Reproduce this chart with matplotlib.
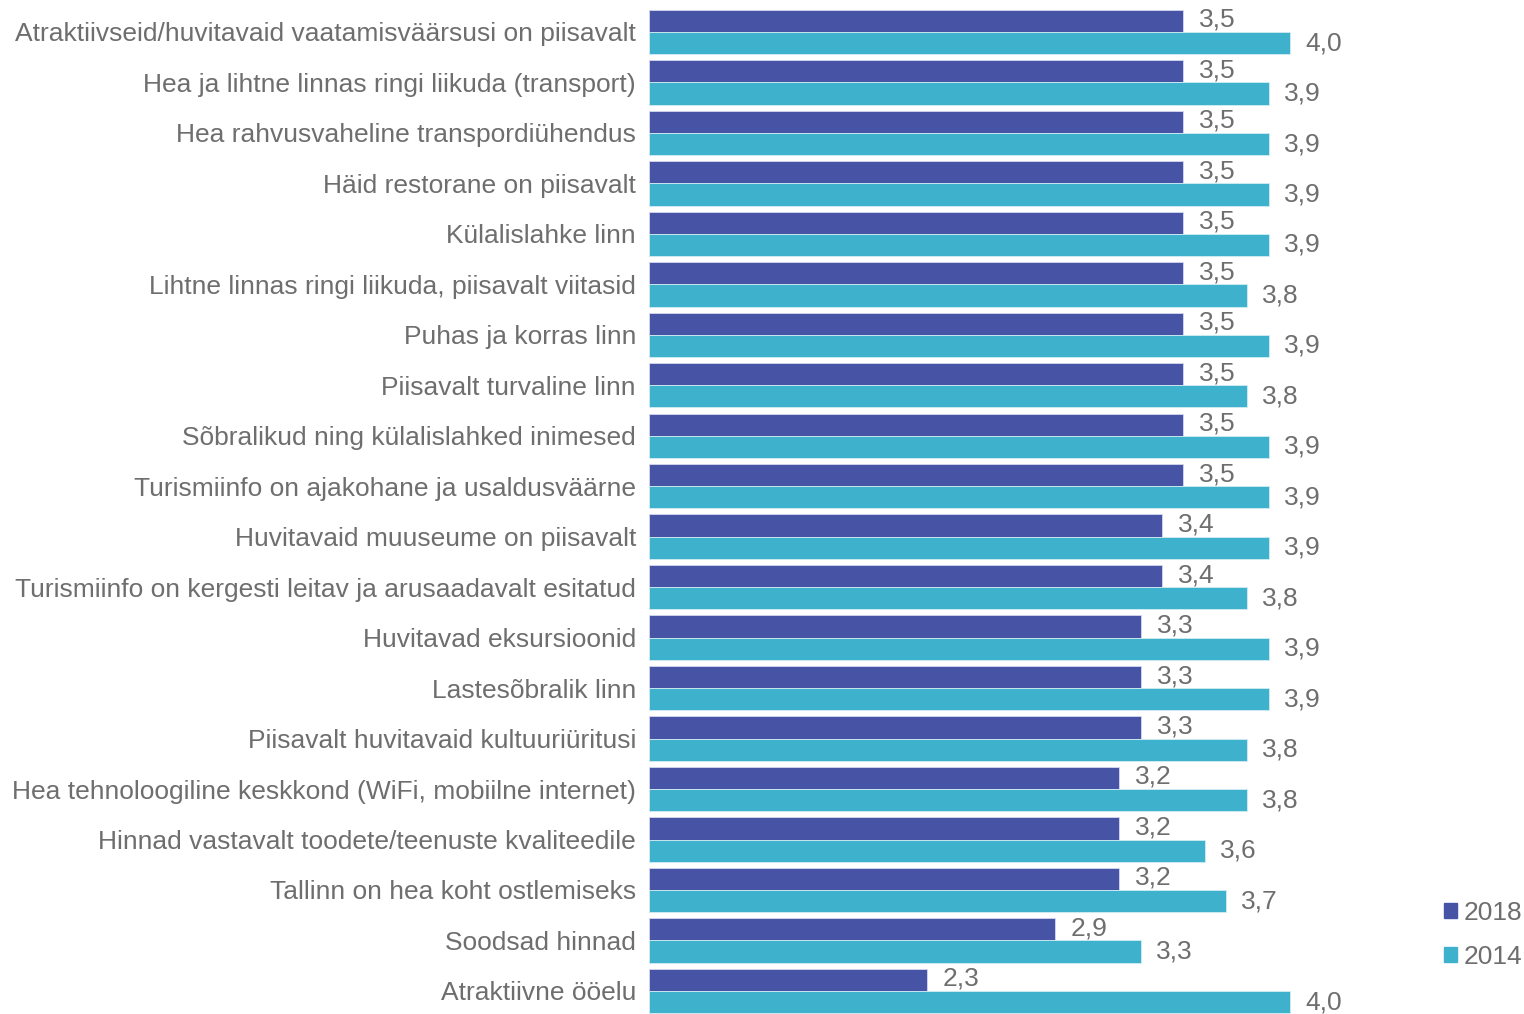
import matplotlib
matplotlib.use("Agg")
import matplotlib.pyplot as plt
from matplotlib.patches import Patch
import numpy as np

plt.rcParams['font.family'] = ['Liberation Sans', 'DejaVu Sans']

categories = [
    "Atraktiivseid/huvitavaid vaatamisväärsusi on piisavalt",
    "Hea ja lihtne linnas ringi liikuda (transport)",
    "Hea rahvusvaheline transpordiühendus",
    "Häid restorane on piisavalt",
    "Külalislahke linn",
    "Lihtne linnas ringi liikuda, piisavalt viitasid",
    "Puhas ja korras linn",
    "Piisavalt turvaline linn",
    "Sõbralikud ning külalislahked inimesed",
    "Turismiinfo on ajakohane ja usaldusväärne",
    "Huvitavaid muuseume on piisavalt",
    "Turismiinfo on kergesti leitav ja arusaadavalt esitatud",
    "Huvitavad eksursioonid",
    "Lastesõbralik linn",
    "Piisavalt huvitavaid kultuuriüritusi",
    "Hea tehnoloogiline keskkond (WiFi, mobiilne internet)",
    "Hinnad vastavalt toodete/teenuste kvaliteedile",
    "Tallinn on hea koht ostlemiseks",
    "Soodsad hinnad",
    "Atraktiivne ööelu",
]
vals_2018 = [3.5, 3.5, 3.5, 3.5, 3.5, 3.5, 3.5, 3.5, 3.5, 3.5,
             3.4, 3.4, 3.3, 3.3, 3.3, 3.2, 3.2, 3.2, 2.9, 2.3]
vals_2014 = [4.0, 3.9, 3.9, 3.9, 3.9, 3.8, 3.9, 3.8, 3.9, 3.9,
             3.9, 3.8, 3.9, 3.9, 3.8, 3.8, 3.6, 3.7, 3.3, 4.0]

C18 = "#4753a5"
C14 = "#3eb1cd"
TXT = "#6e6e6e"
FS = 19

W, H = 1524, 1014
fig = plt.figure(figsize=(W / 100, H / 100), dpi=100)

# axes placed in pixels: bars start at x=649 (value 1)
ax_left, ax_right = 649, 1420
ax = fig.add_axes([ax_left / W, 0, (ax_right - ax_left) / W, 1])
px_per_unit = 213.7
ax.set_xlim(1, 1 + (ax_right - ax_left) / px_per_unit)

step = 50.47
top_c = 32
ax.set_ylim((H - top_c) / step, -top_c / step)

y = np.arange(len(categories))
bh = 0.44
ax.barh(y - bh / 2, np.array(vals_2018) - 1, left=1, height=bh,
        color=C18, edgecolor="#d6d8ee", linewidth=0.6)
ax.barh(y + bh / 2, np.array(vals_2014) - 1, left=1, height=bh,
        color=C14, edgecolor="#d3ecf3", linewidth=0.6)

for yy, v in zip(y - bh / 2, vals_2018):
    ax.annotate(f"{v:.1f}".replace(".", ","), (v, yy), xytext=(16, 1),
                textcoords="offset pixels", va="center", ha="left",
                fontsize=FS, color=TXT)
for yy, v in zip(y + bh / 2, vals_2014):
    ax.annotate(f"{v:.1f}".replace(".", ","), (v, yy), xytext=(15, 0),
                textcoords="offset pixels", va="center", ha="left",
                fontsize=FS, color=TXT)

ax.set_yticks(y)
ax.set_yticklabels(categories, fontsize=FS, color=TXT)
ax.tick_params(axis="y", length=0, pad=9.4)
for t in ax.get_yticklabels():
    t.set_y(t.get_position()[1])
ax.set_xticks([])
for s in ax.spines.values():
    s.set_visible(False)

handles = [Patch(color=C18, label="2018"), Patch(color=C14, label="2014")]
fig.legend(handles=handles, loc="center right",
           bbox_to_anchor=(1522 / W, 1 - 935 / H), frameon=False,
           fontsize=FS, labelcolor=TXT, handlelength=0.5, handleheight=0.5,
           handletextpad=0.25, labelspacing=0.75, borderpad=0,
           borderaxespad=0)

fig.savefig("out.png", dpi=100)
